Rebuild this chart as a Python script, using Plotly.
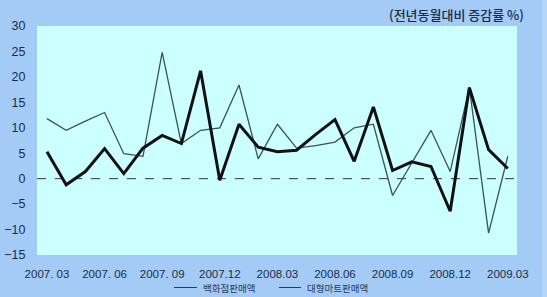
import plotly.graph_objects as go

months = list(range(25))
tick_pos = [0, 3, 6, 9, 12, 15, 18, 21, 24]
tick_labels = ["2007. 03", "2007. 06", "2007. 09", "2007.12", "2008.03",
               "2008.06", "2008.09", "2008.12", "2009.03"]

dept_store = [5.3, -1.2, 1.4, 5.9, 1.0, 6.0, 8.5, 6.9, 21.2, -0.3, 10.7, 6.2, 5.3,
              5.6, 8.7, 11.6, 3.4, 14.1, 1.6, 3.3, 2.4, -6.4, 17.9, 5.7, 2.0]
large_mart = [11.8, 9.5, 11.3, 13.0, 4.9, 4.4, 24.8, 6.9, 9.5, 10.0, 18.4, 3.9, 10.7,
              6.0, 6.5, 7.2, 10.0, 10.7, -3.3, 3.1, 9.5, 1.4, 17.9, -10.7, 4.4]

name_dept = "백화점판매액"
name_mart = "대형마트판매액"
title_text = "(전년동월대비 증감률 %)"

font_family = "Liberation Sans, Arial, Noto Sans CJK KR, sans-serif"
cjk_family = "Noto Sans CJK KR, sans-serif"
text_color = "#1b2b4b"

fig = go.Figure()
fig.add_trace(go.Scatter(x=months, y=large_mart, mode="lines", name=name_mart,
                         line=dict(color="#3a5550", width=1.3), showlegend=False))
fig.add_trace(go.Scatter(x=months, y=dept_store, mode="lines", name=name_dept,
                         line=dict(color="#111111", width=3), showlegend=False))

W, H = 547, 297
L, R, T, B = 37, 30, 26, 42
pw = W - L - R
ph = H - T - B

def px(xpix):
    return (xpix - L) / pw

def py(ypix):
    return (H - B - ypix) / ph

leg_y = py(287.5)

fig.update_layout(
    width=W, height=H,
    margin=dict(l=L, r=R, t=T, b=B, autoexpand=False),
    paper_bgcolor="#a3cbf5",
    plot_bgcolor="#ccffff",
    font=dict(family=font_family, size=12, color=text_color),
    xaxis=dict(range=[-0.52, 24.48], tickvals=tick_pos, ticktext=tick_labels,
               showgrid=False, zeroline=False, showline=False, automargin=False,
               ticks="outside", ticklen=8, tickcolor="rgba(0,0,0,0)",
               tickfont=dict(size=11.5, color=text_color), fixedrange=True),
    yaxis=dict(range=[-15, 30], dtick=5, showgrid=False, zeroline=False,
               showline=False, ticks="outside", ticklen=8, automargin=False,
               tickcolor="rgba(0,0,0,0)",
               tickfont=dict(size=12.5, color=text_color), fixedrange=True),
    shapes=[
        dict(type="line", xref="paper", yref="y", x0=0, x1=1, y0=0, y1=0,
             line=dict(color="#333333", width=1, dash="dash"), layer="below"),
        dict(type="rect", xref="paper", yref="paper", x0=px(542), x1=px(548),
             y0=-1, y1=2, fillcolor="#b3d6f8", line=dict(width=0), layer="below"),
        dict(type="line", xref="paper", yref="paper", x0=px(174), x1=px(197),
             y0=leg_y, y1=leg_y, line=dict(color="#2a3a4a", width=1)),
        dict(type="line", xref="paper", yref="paper", x0=px(279), x1=px(301),
             y0=leg_y, y1=leg_y, line=dict(color="#2a3a4a", width=1)),
    ],
    annotations=[
        dict(text=title_text, xref="paper", yref="paper", x=px(526),
             y=py(14), xanchor="right", yanchor="middle",
             showarrow=False,
             font=dict(size=13, color=text_color, family=cjk_family, weight=500)),
        dict(text=name_dept, xref="paper", yref="paper", x=px(201),
             y=leg_y, xanchor="left", yanchor="middle",
             showarrow=False,
             font=dict(size=9.5, color="#2a3a5a", family=cjk_family)),
        dict(text=name_mart, xref="paper", yref="paper", x=px(305),
             y=leg_y, xanchor="left", yanchor="middle",
             showarrow=False,
             font=dict(size=9.5, color="#2a3a5a", family=cjk_family)),
    ],
)

fig.write_html("out.html")
